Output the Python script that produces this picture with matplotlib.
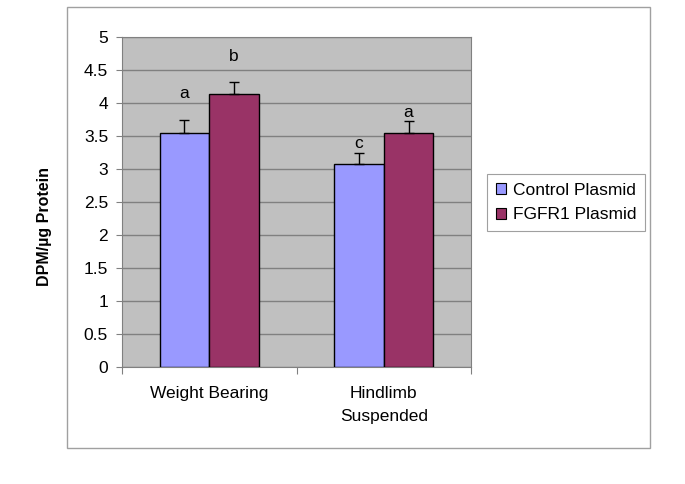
import matplotlib
matplotlib.use("Agg")
import matplotlib.pyplot as plt
from matplotlib.patches import Rectangle, Patch
import numpy as np

categories = ["Weight Bearing", "Hindlimb\nSuspended"]
series_names = ["Control Plasmid", "FGFR1 Plasmid"]
control_vals = [3.55, 3.07]
fgfr1_vals = [4.14, 3.55]
control_err = [0.20, 0.17]
fgfr1_err = [0.18, 0.17]
control_letters = ["a", "c"]
fgfr1_letters = ["b", "a"]
control_letter_y = [4.14, 3.39]
fgfr1_letter_y = [4.71, 3.85]
yticks = [0, 0.5, 1, 1.5, 2, 2.5, 3, 3.5, 4, 4.5, 5]
ytick_labels = ["0", "0.5", "1", "1.5", "2", "2.5", "3", "3.5", "4", "4.5", "5"]

plt.rcParams['font.family'] = ['Liberation Sans', 'DejaVu Sans']
FS = 12.5

fig = plt.figure(figsize=(6.85, 4.84), dpi=100)
fig.patches.append(Rectangle((67/685, 1-448/484), (650-67)/685, (448-7)/484,
                             transform=fig.transFigure, fill=False,
                             edgecolor="#a0a0a0", linewidth=1.0))

ax = fig.add_axes([122/685, 1-367/484, (471-122)/685, (367-37)/484])
ax.set_facecolor("#c0c0c0")

x = np.arange(len(categories))
w = 0.285
c1, c2 = "#9999ff", "#993366"
ax.bar(x - w/2, control_vals, w, color=c1, edgecolor="black", linewidth=1.0, zorder=3)
ax.bar(x + w/2, fgfr1_vals, w, color=c2, edgecolor="black", linewidth=1.0, zorder=3)
ax.errorbar(x - w/2, control_vals, yerr=[np.zeros(2), control_err], fmt="none",
            ecolor="black", elinewidth=1.0, capsize=3.6, capthick=1.0, zorder=4)
ax.errorbar(x + w/2, fgfr1_vals, yerr=[np.zeros(2), fgfr1_err], fmt="none",
            ecolor="black", elinewidth=1.0, capsize=3.6, capthick=1.0, zorder=4)

for i in range(len(categories)):
    ax.text(x[i] - w/2, control_letter_y[i], control_letters[i], ha="center", va="center", fontsize=FS)
    ax.text(x[i] + w/2, fgfr1_letter_y[i], fgfr1_letters[i], ha="center", va="center", fontsize=FS)

ax.set_xlim(-0.5, 1.5)
ax.set_ylim(0, 5)
ax.set_yticks(yticks)
ax.set_yticklabels(ytick_labels, fontsize=FS)
ax.yaxis.grid(True, color="#808080", linewidth=1.0, zorder=0)
ax.set_axisbelow(True)

ax.set_xticks([-0.5, 0.5, 1.5])
ax.set_xticklabels([])
ax.set_xticks(x, minor=True)
ax.set_xticklabels(categories, minor=True, fontsize=FS, linespacing=1.6)
ax.tick_params(axis="x", which="minor", length=0, pad=14)
ax.tick_params(axis="x", which="major", length=5, color="#808080")
ax.tick_params(axis="y", length=4, color="#808080", pad=6)

for s in ["left", "bottom", "top", "right"]:
    ax.spines[s].set_color("#808080")

fig.text(44/685, 1-227/484, "DPM/µg Protein", rotation=90, ha="center", va="center",
         fontsize=11.5, fontweight="bold")

handles = [Patch(facecolor=c1, edgecolor="black", linewidth=0.8),
           Patch(facecolor=c2, edgecolor="black", linewidth=0.8)]
leg = fig.legend(handles, series_names, loc="center left",
                 bbox_to_anchor=(487/685, 1-202.5/484), fontsize=FS,
                 handlelength=0.6, handleheight=0.6, handletextpad=0.4,
                 borderpad=0.5, labelspacing=0.55, fancybox=False,
                 edgecolor="#a0a0a0", framealpha=1.0, borderaxespad=0)
leg.get_frame().set_linewidth(0.8)

fig.savefig("out.png", dpi=100)
